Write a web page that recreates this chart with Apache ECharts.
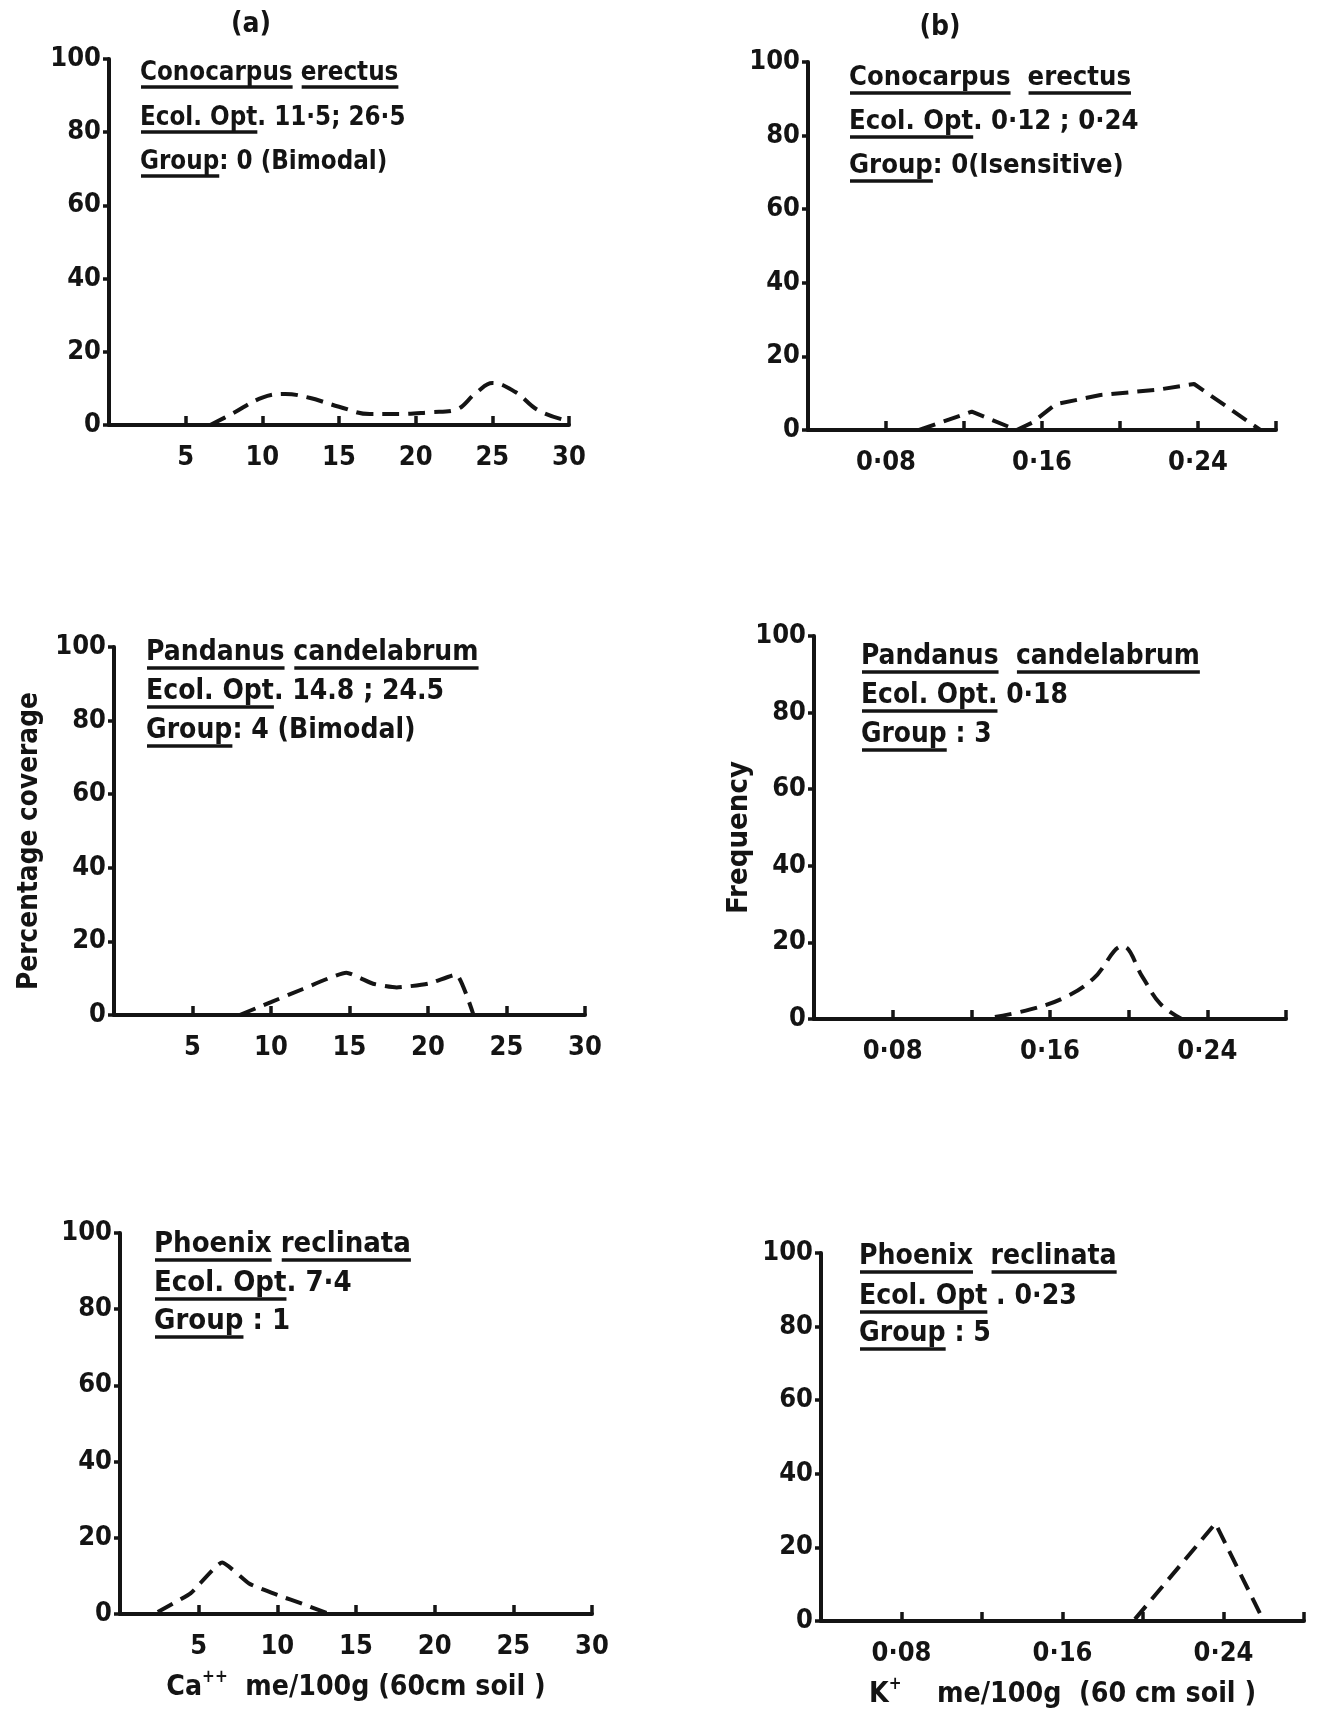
<!DOCTYPE html>
<html>
<head>
<meta charset="utf-8">
<script src="https://cdn.jsdelivr.net/npm/echarts@6/dist/echarts.min.js"></script>
<style>
html,body{margin:0;padding:0;background:#fff;}
#chart{width:1318px;height:1711px;}
</style>
</head>
<body>
<div id="chart"></div>
<script>
// ---------------- DATA ----------------
// (a) Ca++ me/100g — percentage coverage
const caConocarpusX = [6.6, 8, 10, 11.5, 13, 15, 17, 19, 21, 22.5, 24, 25, 26.5, 28, 30];
const caConocarpusY = [0, 3, 7.5, 8.5, 7.5, 5, 3, 3, 3.5, 4, 9, 11.5, 9, 4, 1];
const caPandanusX = [8, 10, 12, 14.8, 16.5, 18, 20, 21.8, 22.9];
const caPandanusY = [0, 3.5, 7, 11.5, 8.5, 7.5, 8.5, 11, 0];
const caPhoenixX = [2.4, 4.5, 6.5, 8.2, 10, 11.7, 13.3];
const caPhoenixY = [0.5, 5.5, 13.5, 8, 5, 2.5, 0];
// (b) K+ me/100g — frequency
const kConocarpusX = [0.097, 0.124, 0.147, 0.155, 0.167, 0.19, 0.22, 0.238, 0.272];
const kConocarpusY = [0, 5, 0, 2, 7, 9.5, 11, 12.5, 0];
const kPandanusX = [0.132, 0.15, 0.167, 0.182, 0.197, 0.207, 0.216, 0.227];
const kPandanusY = [0.5, 2.5, 5.5, 10.5, 19, 11, 4, 0];
const kPhoenixX = [0.196, 0.236, 0.26];
const kPhoenixY = [0.5, 26.5, 0];

// tick labels
const yTicks = [0, 20, 40, 60, 80, 100];
const caTicks = [5, 10, 15, 20, 25, 30];
const kTicks = ['0·08', '0·16', '0·24'];

// annotation texts (underscored parts are underlined)
const notesConocarpusCa = ['_Conocarpus_ _erectus_', '_Ecol. Opt_. 11·5; 26·5', '_Group_: 0 (Bimodal)'];
const notesConocarpusK = ['_Conocarpus_  _erectus_', '_Ecol. Opt_. 0·12 ; 0·24', '_Group_: 0(Isensitive)'];
const notesPandanusCa = ['_Pandanus_ _candelabrum_', '_Ecol. Opt_. 14.8 ; 24.5', '_Group_: 4 (Bimodal)'];
const notesPandanusK = ['_Pandanus_  _candelabrum_', '_Ecol. Opt._ 0·18', '_Group_ : 3'];
const notesPhoenixCa = ['_Phoenix_ _reclinata_', '_Ecol. Opt_. 7·4', '_Group_ : 1'];
const notesPhoenixK = ['_Phoenix_  _reclinata_', '_Ecol. Opt_ . 0·23', '_Group_ : 5'];

const panelLabels = ['(a)', '(b)'];
const yTitleCa = 'Percentage coverage';
const yTitleK = 'Frequency';
const xTitleCa = ['Ca', '++', '  me/100g (60cm soil )'];
const xTitleK = ['K', '+', '    me/100g  (60 cm soil )'];

// ---------------- LAYOUT ----------------
const INK = '#141414';
const FAM = '"DejaVu Sans Condensed", "DejaVu Sans", sans-serif';

const panels = [
  {grid:{left:109, top:59, width:460, height:366}, kind:'ca', x:caConocarpusX, y:caConocarpusY, smooth:0.4,
   notes:notesConocarpusCa, nx:140, ny:[73,118,162], nw:259},
  {grid:{left:808, top:62, width:468, height:368}, kind:'k', x:kConocarpusX, y:kConocarpusY, smooth:false,
   notes:notesConocarpusK, nx:849, ny:[78,122,166], nw:282},
  {grid:{left:114, top:647, width:471, height:368}, kind:'ca', x:caPandanusX, y:caPandanusY, smooth:0.15,
   notes:notesPandanusCa, nx:146, ny:[653,692,731], nw:332, yTitle:yTitleCa, yw:298, ycx:30},
  {grid:{left:814, top:636, width:472, height:383}, kind:'k', x:kPandanusX, y:kPandanusY, smooth:0.4,
   notes:notesPandanusK, nx:861, ny:[657,696,735], nw:339, yTitle:yTitleK, yw:153, ycx:739},
  {grid:{left:120, top:1233, width:472, height:381}, kind:'ca', x:caPhoenixX, y:caPhoenixY, smooth:0.15,
   notes:notesPhoenixCa, nx:154, ny:[1244,1283,1321], nw:257, xTitle:xTitleCa, xw:397},
  {grid:{left:821, top:1253, width:483, height:368}, kind:'k', x:kPhoenixX, y:kPhoenixY, smooth:false,
   notes:notesPhoenixK, nx:859, ny:[1257,1297,1334], nw:258, xTitle:xTitleK, xw:396}
];

const ctx = document.createElement('canvas').getContext('2d');
function textW(s, fs){ ctx.font = 'bold ' + fs + 'px ' + FAM; return ctx.measureText(s).width; }
function fitFs(s, w){ return Math.round(30 * w / textW(s, 30) * 10) / 10; }

const graphics = [];
panels.forEach(p => {
  const fs = fitFs(p.notes[0].split('_').join(''), p.nw);
  p.notes.forEach((raw, li) => {
    const parts = raw.split('_');
    const plain = parts.join('');
    const y = p.ny[li];
    graphics.push({type:'text', x:p.nx, y:y, style:{text:plain, fill:INK, font:'bold ' + fs + 'px ' + FAM,
      textAlign:'left', textVerticalAlign:'middle', align:'left', verticalAlign:'middle'}});
    let acc = '';
    parts.forEach((seg, si) => {
      if (si % 2 === 1 && seg.length) {
        const x1 = p.nx + textW(acc, fs) + 1;
        const x2 = p.nx + textW(acc + seg, fs);
        const uy = y + Math.round(fs * 0.5) + 1;
        graphics.push({type:'line', shape:{x1:x1, y1:uy, x2:x2, y2:uy}, style:{stroke:INK, lineWidth:3.5}});
      }
      acc += seg;
    });
  });
  if (p.yTitle) {
    const yfs = fitFs(p.yTitle, p.yw);
    const cy = p.grid.top + p.grid.height / 2 + 10;
    graphics.push({type:'text', x:p.ycx, y:cy, rotation:Math.PI / 2,
      style:{text:p.yTitle, fill:INK, font:'bold ' + yfs + 'px ' + FAM,
      textAlign:'center', textVerticalAlign:'middle', align:'center', verticalAlign:'middle'}});
  }
});
graphics.push({type:'text', x:251, y:25, style:{text:panelLabels[0], fill:INK, font:'bold 28px ' + FAM, textAlign:'center', textVerticalAlign:'middle', align:'center', verticalAlign:'middle'}});
graphics.push({type:'text', x:940, y:28, style:{text:panelLabels[1], fill:INK, font:'bold 28px ' + FAM, textAlign:'center', textVerticalAlign:'middle', align:'center', verticalAlign:'middle'}});

const labelStyle = {color:INK, fontSize:27, fontWeight:'bold', fontFamily:FAM};

function fmtK(v){
  const r = Math.round(v * 100);
  if (r % 8 !== 0 || r === 0) return '';
  const s = '0·' + String(r).padStart(2, '0');
  return kTicks.indexOf(s) >= 0 ? s : '';
}
function fmtCa(v){ return caTicks.indexOf(Math.round(v)) >= 0 && Math.abs(v - Math.round(v)) < 1e-6 ? String(Math.round(v)) : ''; }

const option = {
  backgroundColor:'#ffffff',
  animation:false,
  grid: panels.map(p => Object.assign({containLabel:false}, p.grid)),
  xAxis: panels.map((p, i) => {
    const ax = {
      type:'value', gridIndex:i,
      min: p.kind === 'ca' ? 0 : 0.04,
      max: p.kind === 'ca' ? 30 : 0.28,
      interval: p.kind === 'ca' ? 5 : 0.04,
      axisLine:{show:true, onZero:false, lineStyle:{color:INK, width:4}},
      axisTick:{show:true, inside:true, length:9, lineStyle:{color:INK, width:3.5}},
      axisLabel:Object.assign({margin:19, formatter: p.kind === 'ca' ? fmtCa : fmtK}, labelStyle),
      splitLine:{show:false}
    };
    if (p.xTitle) {
      const plain = p.xTitle.join('');
      const xfs = fitFs(plain, p.xw);
      ax.name = '{b|' + p.xTitle[0] + '}{s|' + p.xTitle[1] + '}{b|' + p.xTitle[2] + '}';
      ax.nameLocation = 'middle';
      ax.nameGap = 55;
      ax.nameTextStyle = {rich:{
        b:{fontSize:xfs, fontWeight:'bold', fontFamily:FAM, color:INK, lineHeight:38},
        s:{fontSize:Math.round(xfs * 0.6), fontWeight:'bold', fontFamily:FAM, color:INK, verticalAlign:'top', lineHeight:20}
      }};
    }
    return ax;
  }),
  yAxis: panels.map((p, i) => ({
    type:'value', gridIndex:i, min:0, max:100, interval:20,
    axisLine:{show:true, lineStyle:{color:INK, width:4}},
    axisTick:{show:true, inside:false, length:6, lineStyle:{color:INK, width:3.5}},
    axisLabel:Object.assign({margin:8, formatter: v => yTicks.indexOf(v) >= 0 ? String(v) : ''}, labelStyle),
    splitLine:{show:false}
  })),
  series: panels.map((p, i) => ({
    type:'line', xAxisIndex:i, yAxisIndex:i,
    data: p.x.map((xv, j) => [xv, p.y[j]]),
    showSymbol:false, smooth:p.smooth,
    lineStyle:{color:INK, width:4, type:[17, 9]},
    silent:true
  })),
  graphic: graphics
};

const chart = echarts.init(document.getElementById('chart'), null, {renderer:'canvas'});
chart.setOption(option);
</script>
</body>
</html>
